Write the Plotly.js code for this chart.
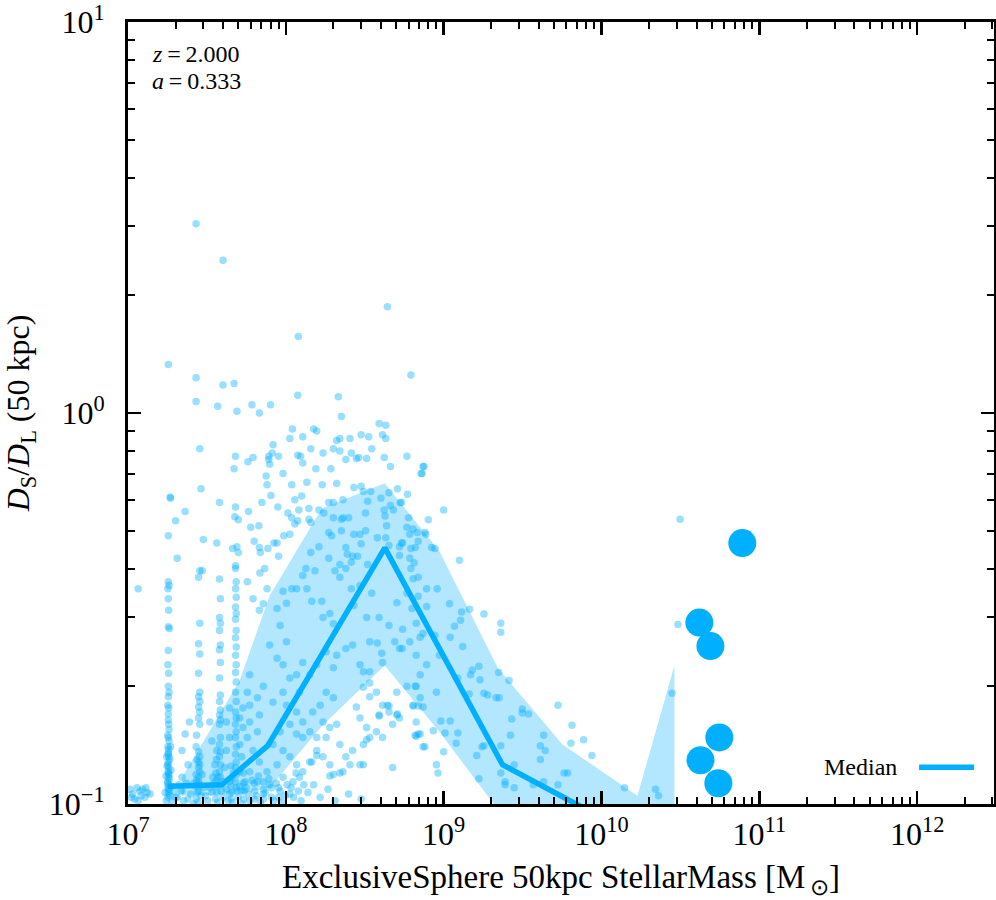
<!DOCTYPE html>
<html>
<head>
<meta charset="utf-8">
<script src="https://cdn.plot.ly/plotly-3.0.1.min.js"></script>
<style>
  html, body { margin: 0; padding: 0; background: #fff; }
  #chart { width: 996px; height: 900px; }
</style>
</head>
<body>
<div id="chart"></div>
<script>
// satellites: [stellar mass, D_S/D_L]
var satellitePoints = [
  [2.7e7,3.05],[4.0e7,2.46],[4.4e8,1.87],[1.2e8,1.57],[1.8e7,1.33],[2.7e7,1.23],[6.2e8,1.25],[4.0e7,1.18],
  [4.7e7,1.19],[2.7e7,1.07],[1.19e8,1.11],[2.15e8,1.10],[3.7e7,1.04],[4.9e7,1.01],[6.1e7,1.05],[6.8e7,1.0],
  [8.0e7,1.05],[2.25e8,0.98],[3.9e8,0.94],[4.3e8,0.93],[2.85e7,0.81],[1.1e8,0.91],[1.5e8,0.91],[1.57e8,0.90],
  [1.28e8,0.87],[1.06e8,0.86],[8.3e7,0.83],[8.2e7,0.79],[1.44e8,0.81],[1.72e8,0.79],[2.0e8,0.81],[2.1e8,0.85],
  [2.2e8,0.86],[2.2e8,0.80],[2.55e8,0.86],[2.6e8,0.79],[3.0e8,0.88],[3.35e8,0.87],[3.5e8,0.81],[4.1e8,0.88],
  [4.3e8,0.86],
  [4.8e7,0.775],[4.7e7,0.72],[5.75e7,0.75],[6.2e7,0.77],[7.8e7,0.775],[7.8e7,0.76],[7.9e7,0.74],[9.0e7,0.775],
  [7.5e7,0.69],[9.6e7,0.70],[1.19e8,0.78],[1.24e8,0.775],[1.28e8,0.745],[1.55e8,0.72],[1.93e8,0.72],[2.4e8,0.76],
  [2.8e8,0.765],[2.9e8,0.77],[3.25e8,0.765],[4.2e8,0.77],[4.6e8,0.73],[5.85e8,0.775],[7.4e8,0.73],[7.2e8,0.70],
  [1.85e7,0.61],[1.86e7,0.605],[2.9e7,0.64],[3.8e7,0.59],[2.3e7,0.56],[2.0e7,0.53],[1.8e7,0.485],[2.05e7,0.425],
  [3.0e7,0.475],[3.65e7,0.465],[4.6e7,0.45],[4.9e7,0.455],[5.0e7,0.44],[4.8e7,0.407],[2.95e7,0.395],[4.8e7,0.575],
  [4.75e7,0.543],[5.0e7,0.533],[5.8e7,0.56],[6.0e7,0.51],[6.3e7,0.47],[6.75e7,0.515],[6.8e7,0.453],[6.9e7,0.44],
  [7.7e7,0.45],[8.4e7,0.465],[8.8e7,0.465],[9.0e7,0.43],[7.35e7,0.40],[6.85e7,0.39],[7.05e7,0.59],[7.6e7,0.655],
  [8.05e7,0.615],[8.9e7,0.575],[1.03e8,0.555],[1.09e8,0.655],[1.14e8,0.60],[1.09e8,0.54],[1.14e8,0.52],[1.21e8,0.565],
  [1.19e8,0.53],[1.26e8,0.613],[1.36e8,0.665],[1.4e8,0.57],[1.4e8,0.535],[1.44e8,0.525],[9.7e7,0.485],[1.06e8,0.49],
  [1.62e8,0.565],[1.7e8,0.655],[1.74e8,0.555],[1.87e8,0.59],[2.0e8,0.59],[2.1e8,0.66],[2.3e8,0.60],[2.5e8,0.54],
  [2.3e8,0.54],[2.25e8,0.535],[2.0e8,0.54],[1.95e8,0.485],[1.87e8,0.495],[2.25e8,0.50],[2.7e8,0.645],[3.0e8,0.65],
  [3.1e8,0.63],[3.45e8,0.63],[3.3e8,0.595],[3.2e8,0.555],[2.95e8,0.49],[2.7e8,0.49],[3.2e8,0.50],[3.8e8,0.48],
  [4.0e8,0.605],[4.2e8,0.565],[4.25e8,0.545],[4.35e8,0.515],[4.5e8,0.625],[4.6e8,0.58],[4.8e8,0.565],[5.1e8,0.64],
  [5.3e8,0.59],[5.9e8,0.62],[6.0e8,0.54],[5.85e8,0.51],[6.4e8,0.505],[6.6e8,0.453],[6.8e8,0.495],[7.6e8,0.495],
  [8.0e8,0.533],[6.2e8,0.45],[5.4e8,0.465],[5.25e8,0.455],[4.5e8,0.458],[4.3e8,0.48],[2.45e8,0.435],[2.65e8,0.43],
  [2.85e8,0.43],[3.3e8,0.41],[2.6e8,0.415],[2.2e8,0.41],[1.87e8,0.425],[1.62e8,0.455],[1.44e8,0.44],[1.34e8,0.40],
  [2.05e8,0.395],[2.4e8,0.453],[3.0e8,0.463],[5.25e8,0.432],[6.1e8,0.425],
  // column near 1.8e7
  [1.8e7,0.37],[1.82e7,0.362],[1.79e7,0.355],[1.8e7,0.335],[1.81e7,0.313],[1.8e7,0.284],[1.83e7,0.281],[1.8e7,0.247],
  [1.79e7,0.227],[1.81e7,0.216],[1.8e7,0.20],[1.82e7,0.193],[1.8e7,0.188],[1.79e7,0.179],[1.81e7,0.176],[1.8e7,0.164],
  [1.82e7,0.155],[1.8e7,0.148],[1.79e7,0.14],[1.81e7,0.138],[1.8e7,0.134],[1.82e7,0.132],[1.8e7,0.128],[1.79e7,0.126],
  [1.81e7,0.124],[1.8e7,0.121],[1.82e7,0.119],[1.8e7,0.117],[1.79e7,0.114],[1.81e7,0.112],[1.8e7,0.110],[1.82e7,0.108],
  [1.8e7,0.106],[1.79e7,0.104],
  // column near 2.8e7
  [2.85e7,0.395],[2.8e7,0.38],[2.85e7,0.29],[2.8e7,0.257],[2.85e7,0.242],[2.8e7,0.216],[2.85e7,0.193],[2.8e7,0.188],
  [2.85e7,0.183],[2.8e7,0.177],[2.85e7,0.172],[2.8e7,0.166],[2.85e7,0.16],[2.8e7,0.136],[2.85e7,0.132],[2.8e7,0.128],
  [2.85e7,0.126],[2.8e7,0.124],[2.85e7,0.121],[2.8e7,0.117],[2.85e7,0.112],[2.8e7,0.108],
  // column near 3.8e7
  [3.8e7,0.376],[3.85e7,0.335],[3.8e7,0.30],[3.85e7,0.29],[3.8e7,0.278],[3.85e7,0.255],[3.8e7,0.248],[3.85e7,0.23],
  [3.8e7,0.21],[3.85e7,0.19],[3.8e7,0.183],[3.85e7,0.174],[3.8e7,0.169],[3.85e7,0.164],[3.8e7,0.16],[3.85e7,0.148],
  [3.8e7,0.142],[3.85e7,0.136],[3.8e7,0.132],[3.85e7,0.126],[3.8e7,0.121],[3.85e7,0.117],[3.8e7,0.112],
  // column near 4.8e7
  [4.8e7,0.40],[4.85e7,0.37],[4.8e7,0.355],[4.85e7,0.338],[4.8e7,0.319],[4.85e7,0.307],[4.8e7,0.297],[4.85e7,0.278],
  [4.8e7,0.266],[4.85e7,0.252],[4.8e7,0.24],[4.85e7,0.227],[4.8e7,0.217],[4.85e7,0.205],[4.8e7,0.193],[4.85e7,0.183],
  [4.8e7,0.172],[4.85e7,0.166],[4.8e7,0.16],[4.85e7,0.153],[4.8e7,0.148],[4.85e7,0.14],[4.8e7,0.134],[4.85e7,0.128],
  [4.8e7,0.124],[4.85e7,0.119],[4.8e7,0.114],[4.85e7,0.11],
  // band region, low masses
  [5.7e7,0.37],[6.2e7,0.335],[6.8e7,0.313],[7.6e7,0.355],[7.2e7,0.325],[8.8e7,0.316],[9.6e7,0.35],[1.01e8,0.326],
  [1.09e8,0.355],[1.17e8,0.355],[1.28e8,0.384],[1.36e8,0.355],[1.46e8,0.33],[1.53e8,0.395],[1.69e8,0.33],[1.72e8,0.30],
  [1.9e8,0.307],[2.0e8,0.289],[2.2e8,0.38],[2.4e8,0.40],[2.6e8,0.355],[2.7e8,0.322],[2.95e8,0.362],[3.25e8,0.30],
  [3.5e8,0.346],[3.8e8,0.258],[4.05e8,0.243],[4.1e8,0.23],[4.9e8,0.26],[5.05e8,0.327],[5.45e8,0.25],[5.85e8,0.346],
  [6.4e8,0.377],[6.7e8,0.20],[7.4e8,0.177],[7.1e8,0.151],[6.7e8,0.149],[1.28e8,0.23],[1.42e8,0.214],[1.57e8,0.227],
  [1.8e8,0.245],[2.0e8,0.223],[2.1e8,0.24],[2.4e8,0.25],[2.65e8,0.255],[2.95e8,0.227],[3.1e8,0.218],[3.4e8,0.218],
  [3.1e8,0.199],[3.4e8,0.188],[3.75e8,0.193],[2.8e8,0.177],[2.95e8,0.166],[3.25e8,0.157],[1.8e8,0.193],[2.0e8,0.187],
  [1.65e8,0.179],[1.48e8,0.172],[1.72e8,0.162],[1.9e8,0.157],[2.1e8,0.16],[1.57e8,0.148],[1.8e8,0.148],[2.2e8,0.142],
  [1.57e8,0.137],[1.42e8,0.128],[1.72e8,0.132],[1.9e8,0.126],[2.3e8,0.121],[2.55e8,0.126],[2.0e8,0.119],[3.1e8,0.126],
  [9.2e7,0.286],[1.01e8,0.26],[7.9e7,0.255],[8.8e7,0.236],[9.6e7,0.227],[1.06e8,0.21],[1.17e8,0.214],[1.22e8,0.193],
  [9.6e7,0.193],[8.3e7,0.182],[1.01e8,0.179],[1.17e8,0.172],[1.28e8,0.162],[1.06e8,0.16],[9.2e7,0.153],[1.17e8,0.151],
  [1.28e8,0.148],[1.42e8,0.153],[8.3e7,0.142],[9.6e7,0.137],[1.06e8,0.132],[1.17e8,0.126],[1.28e8,0.121],[8.8e7,0.126],
  [7.6e7,0.121],[9.6e7,0.117],[1.11e8,0.114],[7.9e7,0.112],[9.2e7,0.108],[1.06e8,0.106],[7.2e7,0.106],[6.6e7,0.114],
  [5.9e7,0.121],[6.8e7,0.128],[6.2e7,0.137],[5.7e7,0.148],[6.6e7,0.153],[5.9e7,0.162],[6.8e7,0.169],[5.9e7,0.179],
  [6.6e7,0.187],[7.2e7,0.20],[5.9e7,0.214],[5.7e7,0.193],[5.35e7,0.176],[5.1e7,0.166],[5.35e7,0.157],[5.1e7,0.142],
  [5.25e7,0.132],[5.1e7,0.121],[5.5e7,0.114],[5.25e7,0.108],[4.4e7,0.176],[4.2e7,0.162],[4.4e7,0.148],[4.2e7,0.137],
  [4.1e7,0.124],[4.4e7,0.114],[3.65e7,0.137],[3.55e7,0.126],[3.45e7,0.117],[3.3e7,0.162],[3.4e7,0.145],[2.45e7,0.162],
  [2.3e7,0.151],[2.2e7,0.137],[2.4e7,0.126],[2.2e7,0.117],[2.15e7,0.108],[2.05e7,0.104],
  [2.4e8,0.132],[2.65e8,0.137],[3.1e8,0.142],[3.4e8,0.148],[3.75e8,0.153],[4.1e8,0.148],[4.75e8,0.16],[4.5e8,0.172],
  [4.1e8,0.179],[5.25e8,0.166],[6.4e8,0.179],[6.7e8,0.162],[5.05e8,0.193],[5.85e8,0.20],[7.1e8,0.214],[7.8e8,0.227],
  [6.7e8,0.24],[6.1e8,0.26],[7.4e8,0.273],[5.5e8,0.28],[4.5e8,0.286],[3.9e8,0.30],[3.4e8,0.26],[3.25e8,0.146],
  [3.9e8,0.169],[5.05e8,0.169],[4.4e8,0.179],[2.95e8,0.126],[2.2e8,0.12],[1.9e8,0.118],[4.75e8,0.124],[7.4e8,0.14],
  [1.57e8,0.133],[1.46e8,0.128],[1.22e8,0.117],
  // higher masses
  [7.3e8,0.70],[7.5e8,0.73],[5.4e8,0.59],[1.0e9,0.565],[6.1e8,0.49],[6.9e8,0.47],[5.5e8,0.466],[7.7e8,0.49],
  [8.4e8,0.453],[8.8e8,0.45],[1.26e9,0.42],[6.5e8,0.414],[6.2e8,0.40],[6.9e8,0.38],[7.8e8,0.355],[9.1e8,0.355],
  [6.9e8,0.34],[7.8e8,0.32],[6.3e8,0.316],[6.7e8,0.29],[7.1e8,0.267],[1.09e9,0.325],[1.3e9,0.31],[1.28e9,0.295],
  [1.46e9,0.315],[1.8e9,0.306],[1.17e9,0.285],[1.1e9,0.267],[1.32e9,0.253],[9.4e8,0.24],[8.8e8,0.27],[2.3e9,0.29],
  [2.3e9,0.275],[1.48e9,0.214],[1.52e9,0.22],[1.67e9,0.225],[1.7e9,0.208],[1.23e9,0.21],[2.23e9,0.217],[2.6e9,0.207],
  [1.8e9,0.192],[1.9e9,0.19],[1.45e9,0.191],[9.0e8,0.193],[2.15e9,0.187],[2.25e9,0.187],[3.15e9,0.175],[3.15e9,0.171],
  [3.45e9,0.17],[2.7e9,0.165],[5.3e9,0.179],[6.5e9,0.159],[7.7e9,0.146],[6.4e9,0.143],[8.7e9,0.133],[4.3e9,0.15],
  [4.1e9,0.141],[4.4e9,0.137],[4.1e9,0.13],[2.65e9,0.15],[2.3e9,0.141],[2.8e9,0.126],[2.3e9,0.12],[2.45e9,0.114],
  [2.45e9,0.112],[2.8e9,0.11],[3.7e9,0.112],[4.3e9,0.114],[5.3e9,0.112],[5.8e9,0.12],[6.1e9,0.12],[1.4e10,0.11],
  [2.2e10,0.109],[2.3e10,0.105],[2.8e10,0.192],[3.05e10,0.288],[3.15e10,0.535],
  [6.6e8,0.20],[7.1e8,0.187],[6.9e8,0.178],[6.4e8,0.178],[6.6e8,0.15],[6.9e8,0.151],[7.6e8,0.14],[8.6e8,0.154],
  [9.6e8,0.163],[1.1e9,0.163],[1.02e9,0.152],[1.23e9,0.152],[1.2e9,0.143],[1.0e9,0.136],[9.0e8,0.126],[9.2e8,0.12],
  [1.62e9,0.133],[1.75e9,0.14],[1.8e9,0.141],[1.67e9,0.116],[5.25e8,0.25],[3.4e8,0.204],[3.9e8,0.168],[4.5e8,0.178],
  [5.1e8,0.17],
  // lowest masses at the left edge
  [1.03e7,0.109],[1.07e7,0.106],[1.14e7,0.11],[1.19e7,0.108],[1.24e7,0.109],[1.32e7,0.107],[1.38e7,0.106],[1.1e7,0.103],
  [1.28e7,0.104],[1.16e7,0.102],[1.16e7,0.355],[1.05e7,0.104],[1.21e7,0.105],[1.3e7,0.11],
  // crowded floor near 0.1
  [1.75e7,0.102],[1.85e7,0.105],[1.8e7,0.109],[1.78e7,0.113],[1.83e7,0.116],[1.8e7,0.12],[1.77e7,0.125],[1.84e7,0.13],
  [1.8e7,0.135],[1.82e7,0.145],[1.79e7,0.15],[1.81e7,0.16],[1.8e7,0.17],[2.7e7,0.103],[2.75e7,0.107],[2.68e7,0.111],
  [2.72e7,0.115],[2.7e7,0.119],[2.74e7,0.13],[2.7e7,0.14],[2.72e7,0.15],[3.6e7,0.103],[3.65e7,0.107],[3.58e7,0.111],
  [3.62e7,0.115],[3.6e7,0.12],[3.63e7,0.13],[4.5e7,0.103],[4.55e7,0.107],[4.48e7,0.111],[4.52e7,0.116],[4.5e7,0.125],
  [5.4e7,0.103],[5.45e7,0.108],[5.4e7,0.113],[5.38e7,0.12],[6.3e7,0.103],[6.35e7,0.108],[6.3e7,0.113],[7.2e7,0.103],
  [7.25e7,0.109],[7.2e7,0.114],[8.1e7,0.104],[8.1e7,0.11],[9.0e7,0.104],[9.0e7,0.11],[9.9e7,0.105],[1.08e8,0.11],
  [1.2e8,0.108],[1.3e8,0.112],[2.0e7,0.104],[2.2e7,0.108],[2.4e7,0.103],[3.1e7,0.105],[3.3e7,0.11],[4.0e7,0.104],
  [4.2e7,0.109],[5.0e7,0.104],[5.8e7,0.106],
  [1.72e7,0.107],[1.88e7,0.111],[1.74e7,0.118],[1.87e7,0.122],[1.76e7,0.132],[1.86e7,0.14],[1.9e7,0.101],[1.95e7,0.108],
  [2.1e7,0.112],[2.25e7,0.102],[2.35e7,0.113],[2.5e7,0.106],[2.6e7,0.1],[2.62e7,0.113],[2.78e7,0.101],[2.8e7,0.114],
  [2.9e7,0.105],[2.95e7,0.119],[3.0e7,0.11],[3.2e7,0.102],[3.4e7,0.107],[3.5e7,0.113],[3.7e7,0.101],[3.72e7,0.117],
  [3.9e7,0.108],[4.0e7,0.114],[4.3e7,0.102],[4.4e7,0.106],[4.6e7,0.101],[4.65e7,0.12],[4.9e7,0.108],[5.1e7,0.111],
  [5.3e7,0.1],[5.6e7,0.11],[5.9e7,0.102],[6.1e7,0.115],[6.5e7,0.105],[6.7e7,0.118],[6.9e7,0.101],[7.4e7,0.107],
  [7.8e7,0.116],[8.4e7,0.102],[8.7e7,0.113],[9.4e7,0.101],[1.02e8,0.112],[1.12e8,0.104],[1.16e8,0.12],[1.25e8,0.102],
  [1.38e8,0.107],[1.5e8,0.112],[1.65e8,0.104],[1.85e8,0.109],[2.05e8,0.102],[2.5e8,0.106],[3.0e8,0.103]
];

// centrals (large markers)
var centralMass = [7.8e10, 4.17e10, 4.9e10, 5.58e10, 4.24e10, 5.5e10];
var centralRatio = [0.465, 0.291, 0.2535, 0.148, 0.1294, 0.113];

// running median and percentile band
var medianMass = [1.79e7, 3.93e7, 7.69e7, 4.24e8, 2.36e9, 1.32e10];
var medianRatio = [0.111, 0.112, 0.141, 0.452, 0.126, 0.087];

var bandMass = [2.2e7, 5.1e7, 7.9e7, 1.69e8, 4.23e8, 9.4e8, 2.2e9, 5.66e9, 1.69e10, 2.9e10];
var bandHigh = [0.117, 0.207, 0.341, 0.570, 0.661, 0.443, 0.223, 0.142, 0.105, 0.226];
var bandLow = [0.105, 0.106, 0.110, 0.158, 0.226, 0.153, 0.097, 0.075, 0.063, 0.056];

var xTickVals = [1e7, 1e8, 1e9, 1e10, 1e11, 1e12];
var xTickText = ["10<sup>7</sup>", "10<sup>8</sup>", "10<sup>9</sup>", "10<sup>10</sup>", "10<sup>11</sup>", "10<sup>12</sup>"];
var yTickVals = [0.1, 1, 10];
var yTickText = ["10<sup>\u22121</sup>", "10<sup>0</sup>", "10<sup>1</sup>"];

var BLUE = "rgb(0,176,255)";
var SERIF = "Liberation Serif, Times New Roman, serif";

var band = {
  x: bandMass.concat(bandMass.slice().reverse()),
  y: bandHigh.concat(bandLow.slice().reverse()),
  type: "scatter",
  mode: "lines",
  fill: "toself",
  fillcolor: "rgba(0,176,255,0.3)",
  line: { width: 0 },
  hoverinfo: "skip",
  showlegend: false,
};

var sats = {
  x: satellitePoints.map(function (p) { return p[0]; }),
  y: satellitePoints.map(function (p) { return p[1]; }),
  type: "scatter",
  mode: "markers",
  marker: { color: BLUE, size: 7.5, opacity: 0.4, line: { width: 0 } },
  showlegend: false,
};

var median = {
  x: medianMass,
  y: medianRatio,
  type: "scatter",
  mode: "lines",
  name: "Median",
  line: { color: BLUE, width: 5.5 },
  showlegend: false,
};

var centrals = {
  x: centralMass,
  y: centralRatio,
  type: "scatter",
  mode: "markers",
  marker: { color: BLUE, size: 28, line: { width: 0 } },
  showlegend: false,
};

var axisCommon = {
  type: "log",
  showgrid: false,
  zeroline: false,
  showline: true,
  linecolor: "black",
  linewidth: 3,
  mirror: "allticks",
  ticks: "inside",
  ticklen: 13,
  tickwidth: 2.5,
  tickcolor: "black",
  ticklabeloverflow: "allow",
  tickfont: { family: SERIF, size: 32, color: "black" },
  minor: { ticks: "inside", ticklen: 7, tickwidth: 2, tickcolor: "black", dtick: "D1", showgrid: false },
};

var layout = {
  width: 996,
  height: 900,
  margin: { l: 128, r: 2, t: 22, b: 96 },
  paper_bgcolor: "white",
  plot_bgcolor: "white",
  showlegend: false,
  xaxis: Object.assign({}, axisCommon, {
    range: [7, 12.487],
    tickvals: xTickVals,
    ticktext: xTickText,
    title: { text: "ExclusiveSphere 50kpc StellarMass [M<sub>\u2009\u2299</sub>]", font: { family: SERIF, size: 33, color: "black" }, standoff: 14 },
  }),
  yaxis: Object.assign({}, axisCommon, {
    range: [-1, 1],
    tickvals: yTickVals,
    ticktext: yTickText,
    ticklabelstandoff: 14,
    title: { text: "<i>D</i><sub>S</sub>/<i>D</i><sub>L</sub> (50 kpc)", font: { family: SERIF, size: 32, color: "black" }, standoff: 16 },
  }),
  annotations: [
    { xref: "paper", yref: "paper", x: 0.025, y: 0.959, xanchor: "left", yanchor: "middle", showarrow: false,
      text: "<i>z</i>\u2009=\u20092.000", font: { family: SERIF, size: 24, color: "black" } },
    { xref: "paper", yref: "paper", x: 0.025, y: 0.924, xanchor: "left", yanchor: "middle", showarrow: false,
      text: "<i>a</i>\u2009=\u20090.333", font: { family: SERIF, size: 24, color: "black" } },
    { xref: "paper", yref: "paper", x: 0.890, y: 0.047, xanchor: "right", yanchor: "middle", showarrow: false,
      text: "Median", font: { family: SERIF, size: 24, color: "black" } },
  ],
  shapes: [
    { type: "line", xref: "paper", yref: "paper", x0: 0.9135, x1: 0.977, y0: 0.047, y1: 0.047,
      line: { color: BLUE, width: 5.5 } },
  ],
};

Plotly.newPlot("chart", [band, sats, median, centrals], layout, { displayModeBar: false, staticPlot: true });
</script>
</body>
</html>
